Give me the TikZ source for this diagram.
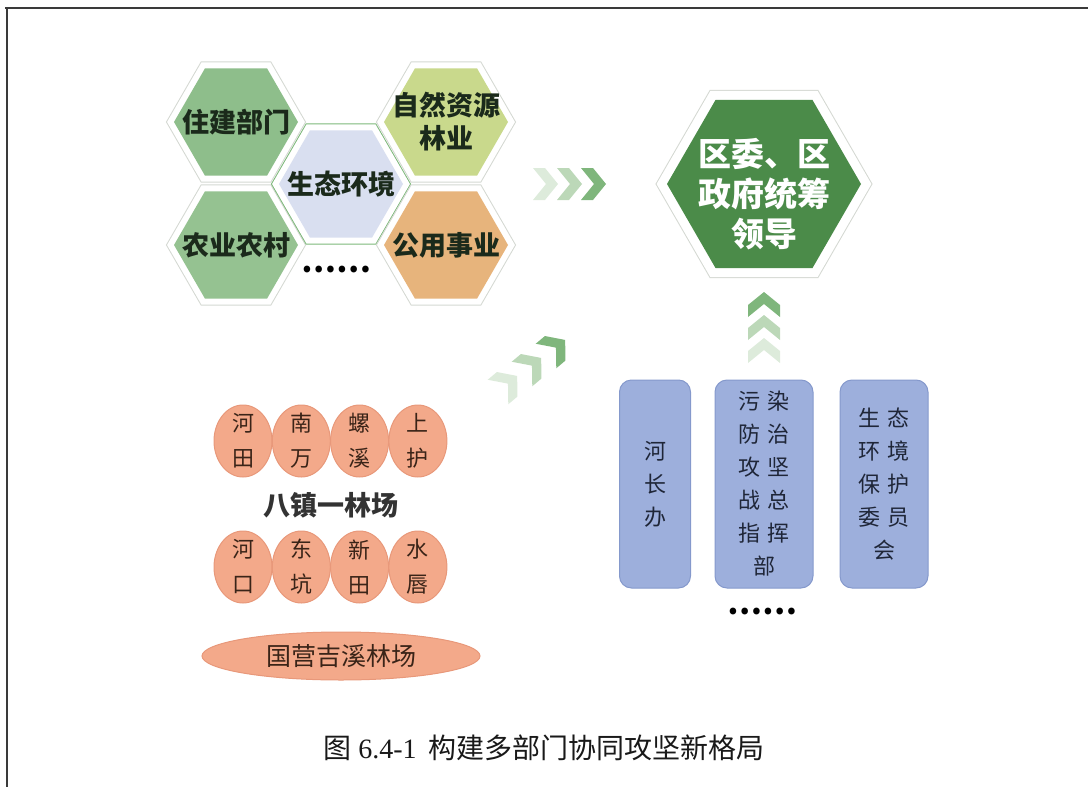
\documentclass[tikz,border=0pt]{standalone}
\usepackage{fontspec}
\setmainfont{Liberation Serif}
\newfontfamily\cjk{Noto Sans CJK SC}
\usepackage{tikz}
\usetikzlibrary{shapes.geometric}
\definecolor{HexGreen}{HTML}{8EBE8B}
\definecolor{HexGreenB}{HTML}{95C291}
\definecolor{HexBlue}{HTML}{D9DFF0}
\definecolor{HexLime}{HTML}{C9D98C}
\definecolor{HexTan}{HTML}{E7B47C}
\definecolor{HexLine}{HTML}{D4D8D2}
\definecolor{HexRim}{HTML}{7DB87A}
\definecolor{HexInk}{HTML}{1B2A1B}
\definecolor{LeadGreen}{HTML}{4B8B49}
\definecolor{ChevA}{HTML}{DDEBDB}
\definecolor{ChevB}{HTML}{BCD8B8}
\definecolor{ChevC}{HTML}{7FB67C}
\definecolor{Salmon}{HTML}{F3A98A}
\definecolor{SalmonEdge}{HTML}{E8987A}
\definecolor{TownInk}{HTML}{3A2418}
\definecolor{Office}{HTML}{9DAFDC}
\definecolor{OfficeEdge}{HTML}{8599CC}
\definecolor{OfficeInk}{HTML}{1F2638}
\definecolor{FrameInk}{HTML}{3A3A3A}
\tikzset{chevron/.pic={\fill[#1] (0,-16) -- (12,-16) -- (25,0) -- (12,16) -- (0,16) -- (13,0) -- cycle;}}
\begin{document}
\begin{tikzpicture}[x=1pt,y=-1pt,
  hexcell/.style={regular polygon,regular polygon sides=6,minimum size=124,inner sep=0,
    preaction={draw=#1,line width=14},preaction={draw=white,line width=12}},
  hexcell/.default=HexLine,
  hextext/.style={font=\cjk\bfseries\fontsize{27}{33}\selectfont,text=HexInk,align=center},
  leadtext/.style={font=\cjk\bfseries\fontsize{33}{40}\selectfont,text=white,align=center},
  town/.style={ellipse,minimum width=58,minimum height=72,inner sep=0,fill=Salmon,draw=SalmonEdge,line width=1},
  towntext/.style={font=\cjk\fontsize{22}{35}\selectfont,text=TownInk,align=center},
  office/.style={rectangle,rounded corners=12,minimum height=208,inner sep=0,fill=Office,draw=OfficeEdge,line width=1,
    font=\cjk\fontsize{22}{33}\selectfont,text=OfficeInk,align=center},
  dots/.style={font=\cjk\bfseries\fontsize{31}{31}\selectfont,inner sep=0}]
  \useasboundingbox (0,0) rectangle (1088,787);
  \draw[FrameInk,line width=2.5] (5,8) -- (1088,8);
  \draw[FrameInk,line width=2.5] (7,8) -- (7,787);
  \foreach \nm/\cx/\cy/\col/\edge/\lab in {
    zhujian/236/122/HexGreen/HexLine/{住建部门},
    nongye/236/245/HexGreenB/HexLine/{农业农村},
    shengtai/341/184/HexBlue/HexRim/{生态环境},
    ziran/446/122/HexLime/HexLine/{自然资源\\林业},
    gongyong/446/245/HexTan/HexLine/{公用事业}} {
    \node[hexcell=\edge,fill=\col,label={[hextext]center:\lab}] (\nm) at (\cx,\cy) {};
  }
  \node[dots] (moreA) at (336,270) {……};
  \node[regular polygon,regular polygon sides=6,minimum size=194,inner sep=0,fill=LeadGreen,
    preaction={draw=HexLine,line width=20},preaction={draw=white,line width=18},
    label={[leadtext,yshift=-10]center:区委、区\\政府统筹\\领导}] (lead) at (764,184) {};
  \foreach \dx/\col in {0/ChevA,24/ChevB,48/ChevC}
    \pic at (533+\dx,184) {chevron=\col};
  \foreach \k/\col in {0/ChevA,1/ChevB,2/ChevC}
    \pic[rotate=40] at (498+24*\k,392-18*\k) {chevron=\col};
  \foreach \k/\col in {0/ChevA,1/ChevB,2/ChevC}
    \pic[rotate=90] at (764,363-23*\k) {chevron=\col};
  \foreach \i/\lab in {0/{河\\田},1/{南\\万},2/{螺\\溪},3/{上\\护}}
    \node[town,label={[towntext]center:\lab}] (townA\i) at (243+58.3*\i,441) {};
  \node[font=\cjk\bfseries\fontsize{27}{27}\selectfont,text=black!80] (eight) at (331,505) {八镇一林场};
  \foreach \i/\lab in {0/{河\\口},1/{东\\坑},2/{新\\田},3/{水\\唇}}
    \node[town,label={[towntext]center:\lab}] (townB\i) at (243+58.3*\i,567) {};
  \node[town,minimum width=278,minimum height=48,font=\cjk\fontsize{25}{25}\selectfont,text=TownInk] (farm) at (341,656) {国营吉溪林场};
  \node[office,minimum width=71] (hezhang) at (655,484) {河\\长\\办};
  \node[office,minimum width=98] (wuran) at (764,484) {污\kern8pt染\\防\kern8pt治\\攻\kern8pt坚\\战\kern8pt总\\指\kern8pt挥\\部};
  \node[office,minimum width=88] (weiyuan) at (884,484) {生\kern8pt态\\环\kern8pt境\\保\kern8pt护\\委\kern8pt员\\会};
  \node[dots] (moreB) at (762,612) {……};
  \node[font=\fontsize{28}{34}\selectfont,text=black!90] (caption) at (544,748) {{\cjk 图} 6.4-1\hspace{12pt}{\cjk 构建多部门协同攻坚新格局}};
\end{tikzpicture}
\end{document}
